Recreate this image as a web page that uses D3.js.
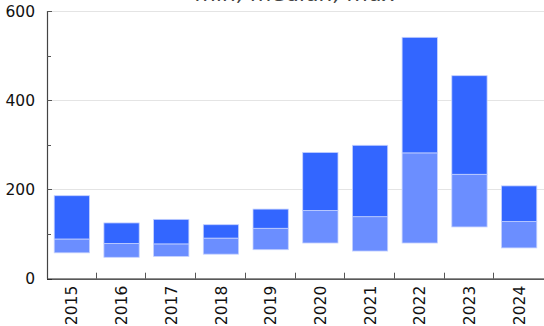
<!DOCTYPE html>
<html>
<head>
<meta charset="utf-8">
<script src="https://cdn.jsdelivr.net/npm/d3@7"></script>
<style>
  body { margin: 0; background: #fff; }
  svg { display: block; font-family: 'DejaVu Sans', sans-serif; }
</style>
</head>
<body>
<svg id="svg" width="544" height="326"></svg>
<script>
const years = ['2015', '2016', '2017', '2018', '2019', '2020', '2021', '2022', '2023', '2024'];
const minValues = [58, 48, 50, 55, 65, 80, 62, 80, 116, 69];
const midValues = [89, 79, 78, 91, 113, 153, 139, 282, 234, 128];
const maxValues = [186, 125, 133, 121, 156, 283, 299, 541, 455, 208];
const yTicks = [0, 200, 400, 600];
const yMinorTicks = [100, 300, 500];

const margin = { top: 11, right: 0, bottom: 47, left: 47 };
const width = 544, height = 326;

const svg = d3.select('#svg');

const x = d3.scaleBand().domain(years)
  .range([margin.left, width - margin.right])
  .paddingInner(0.29).paddingOuter(0.145);
const xb = d3.scaleBand().domain(years).range([margin.left, width - margin.right]);
const y = d3.scaleLinear().domain([0, 600]).range([height - margin.bottom - 0.3, margin.top]);

// gridlines
svg.append('g').selectAll('line').data(yTicks.filter(d => d > 0)).join('line')
  .attr('x1', margin.left).attr('x2', width)
  .attr('y1', d => Math.round(y(d)) + 0.5).attr('y2', d => Math.round(y(d)) + 0.5)
  .attr('stroke', '#e4e4e4').attr('stroke-width', 1);

// bars: min -> mid (light), mid -> max (dark)
const bars = svg.append('g');
years.forEach((yr, i) => {
  bars.append('rect')
    .attr('x', x(yr)).attr('width', x.bandwidth())
    .attr('y', y(midValues[i])).attr('height', y(minValues[i]) - y(midValues[i]))
    .attr('fill', '#6b8eff').attr('stroke', '#c4d1ff').attr('stroke-width', 0.8);
  bars.append('rect')
    .attr('x', x(yr)).attr('width', x.bandwidth())
    .attr('y', y(maxValues[i])).attr('height', y(midValues[i]) - y(maxValues[i]))
    .attr('fill', '#3366ff').attr('stroke', '#c4d1ff').attr('stroke-width', 0.8);
});

// y axis
const yAxis = svg.append('g').attr('transform', `translate(${margin.left},0)`);
yAxis.append('line')
  .attr('x1', 0.5).attr('x2', 0.5).attr('y1', y(600)).attr('y2', y(0))
  .attr('stroke', '#444').attr('stroke-width', 1.2);
yAxis.selectAll('.major').data(yTicks).join('line').attr('class', 'major')
  .attr('x1', 0).attr('x2', 5)
  .attr('y1', d => Math.round(y(d)) + 0.5).attr('y2', d => Math.round(y(d)) + 0.5)
  .attr('stroke', '#555');
yAxis.selectAll('.minor').data(yMinorTicks).join('line').attr('class', 'minor')
  .attr('x1', 0).attr('x2', 4)
  .attr('y1', d => Math.round(y(d)) + 0.5).attr('y2', d => Math.round(y(d)) + 0.5)
  .attr('stroke', '#555');
yAxis.selectAll('text').data(yTicks).join('text')
  .attr('x', -12).attr('y', d => y(d)).attr('dy', '0.36em')
  .attr('text-anchor', 'end').attr('font-size', 15.5).attr('fill', '#111')
  .text(d => d);

// x axis
const xAxis = svg.append('g');
xAxis.append('line')
  .attr('x1', margin.left).attr('x2', width)
  .attr('y1', y(0) + 0.5).attr('y2', y(0) + 0.5)
  .attr('stroke', '#222').attr('stroke-width', 1.2);
xAxis.selectAll('.tick').data(years.slice(1)).join('line').attr('class', 'tick')
  .attr('x1', d => Math.round(xb(d)) - 0.5).attr('x2', d => Math.round(xb(d)) - 0.5)
  .attr('y1', y(0)).attr('y2', y(0) - 6)
  .attr('stroke', '#555');
xAxis.selectAll('text').data(years).join('text')
  .attr('transform', d => `translate(${xb(d) + xb.bandwidth() / 2},${y(0) + 7}) rotate(-90)`)
  .attr('text-anchor', 'end').attr('dy', '0.36em')
  .attr('font-size', 15.5).attr('fill', '#111')
  .text(d => d);

// title (clipped at top, as in the reference)
svg.append('text')
  .attr('x', (margin.left + width) / 2).attr('y', 1)
  .attr('text-anchor', 'middle').attr('font-size', 22).attr('font-style', 'italic')
  .attr('fill', '#444')
  .text('min, median, max');
</script>
</body>
</html>
